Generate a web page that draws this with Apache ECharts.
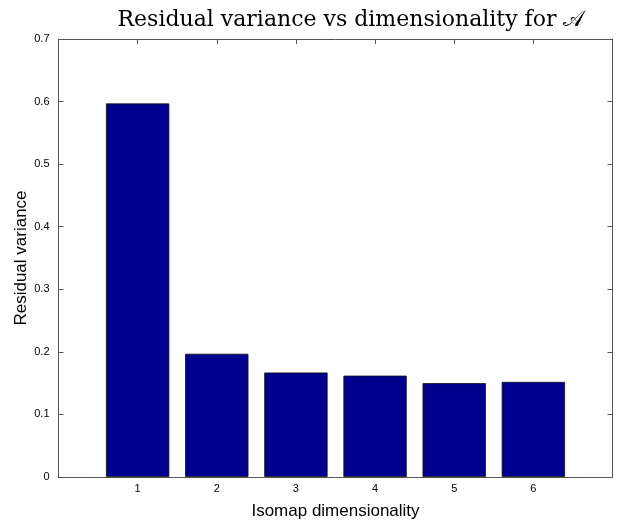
<!DOCTYPE html>
<html>
<head>
<meta charset="utf-8">
<script src="https://cdn.jsdelivr.net/npm/echarts@6/dist/echarts.min.js"></script>
<style>
html,body{margin:0;padding:0;background:#fff;}
#c{width:617px;height:524px;}
</style>
</head>
<body>
<div id="c"></div>
<script>
const dims = [1, 2, 3, 4, 5, 6];
const residualVariance = [0.597, 0.197, 0.167, 0.162, 0.150, 0.152];
const yTicks = [0, 0.1, 0.2, 0.3, 0.4, 0.5, 0.6, 0.7];

const chart = echarts.init(document.getElementById('c'), null, {renderer: 'canvas'});
const axisFont = {color: '#000', fontFamily: 'Liberation Sans, Arial, sans-serif', fontSize: 11};
const boxLine = {show: true, onZero: false, lineStyle: {color: '#555', width: 1}};
const tickStyle = {show: true, inside: true, length: 5, lineStyle: {color: '#555', width: 1}};

chart.setOption({
  animation: false,
  backgroundColor: '#fff',
  title: {
    text: 'Residual variance vs dimensionality for 𝒜',
    left: 346, top: 4, textAlign: 'center',
    textStyle: {fontFamily: 'DejaVu Serif, Liberation Serif, serif', fontWeight: 'normal', fontSize: 22, color: '#000'}
  },
  grid: {left: 58.5, right: 4.5, top: 39, bottom: 47, containLabel: false, outerBoundsMode: 'none'},
  xAxis: [{
    type: 'value', min: 0, max: 7, interval: 1, position: 'bottom',
    name: 'Isomap dimensionality', nameLocation: 'middle', nameGap: 26, nameMoveOverlap: false,
    nameTextStyle: {fontFamily: 'Liberation Sans, Arial, sans-serif', fontSize: 17, color: '#000'},
    axisLine: boxLine, axisTick: tickStyle, splitLine: {show: false},
    axisLabel: Object.assign({margin: 6, formatter: v => (dims.indexOf(v) >= 0 ? String(v) : '')}, axisFont)
  }, {
    type: 'value', min: 0, max: 7, interval: 1, position: 'top',
    axisLine: boxLine, axisTick: tickStyle, splitLine: {show: false}, axisLabel: {show: false}
  }],
  yAxis: [{
    type: 'value', min: 0, max: 0.7, interval: 0.1, position: 'left',
    name: 'Residual variance', nameLocation: 'middle', nameGap: 29, nameRotate: 90, nameMoveOverlap: false,
    nameTextStyle: {fontFamily: 'Liberation Sans, Arial, sans-serif', fontSize: 17, color: '#000'},
    axisLine: boxLine, axisTick: tickStyle, splitLine: {show: false},
    axisLabel: Object.assign({margin: 9, formatter: v => { const t = yTicks.find(x => Math.abs(x - v) < 1e-9); return t === undefined ? '' : (t === 0 ? '0' : String(+t.toFixed(1))); }}, axisFont)
  }, {
    type: 'value', min: 0, max: 0.7, interval: 0.1, position: 'right',
    axisLine: boxLine, axisTick: tickStyle, splitLine: {show: false}, axisLabel: {show: false}
  }],
  series: [{
    type: 'bar',
    xAxisIndex: 0, yAxisIndex: 0,
    data: dims.map((d, i) => [d, residualVariance[i]]),
    barWidth: '80%',
    itemStyle: {color: '#00008F', borderColor: '#111', borderWidth: 0.8}
  }]
});
</script>
</body>
</html>
